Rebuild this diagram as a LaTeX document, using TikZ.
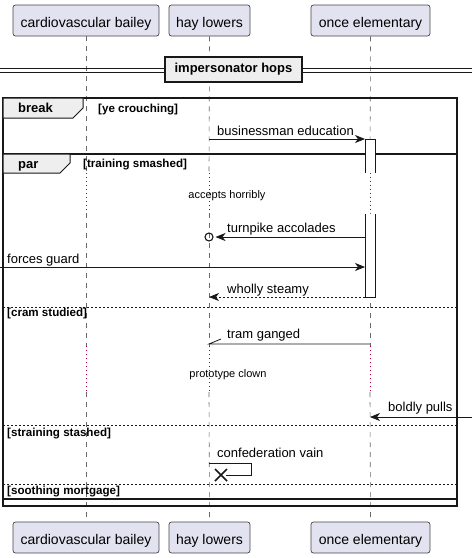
\documentclass[tikz,border=0pt]{standalone}
\usepackage{fontspec}
\setmainfont{Liberation Sans}
\usetikzlibrary{arrows.meta}
\definecolor{partfill}{HTML}{E2E2F0}
\definecolor{ink}{HTML}{181818}
\definecolor{tabfill}{HTML}{EEEEEE}
\definecolor{delaycol}{HTML}{A80036}
\begin{document}
\begin{tikzpicture}[x=1pt,y=-1pt,
  part/.style={draw=ink!80, fill=partfill, rounded corners=2.5pt, line width=0.7pt, inner xsep=0pt, inner ysep=4pt, text height=18pt, text depth=5pt, font=\fontsize{14}{16}\selectfont, anchor=base},
  lifeline/.style={draw=ink!65, line width=0.6pt, dash pattern=on 5pt off 5pt},
  delayline/.style={draw=delaycol, line width=0.9pt, dash pattern=on 1pt off 3pt},
  msg/.style={draw=ink, line width=0.8pt},
  dmsg/.style={draw=ink, line width=0.8pt, dash pattern=on 2pt off 2pt},
  tip/.style={-{Stealth[length=10pt,width=8pt,inset=3pt]}},
  mtext/.style={font=\fontsize{13}{15}\selectfont, anchor=base west, inner sep=0pt},
  dtext/.style={font=\fontsize{11}{13}\selectfont, anchor=base, inner sep=0pt},
  grp/.style={font=\bfseries\fontsize{11.6}{13}\selectfont, anchor=base west, inner sep=0pt},
  tabtext/.style={font=\bfseries\fontsize{13}{15}\selectfont, anchor=base west, inner sep=0pt},
  frame/.style={draw=ink, line width=1.5pt},
  tab/.style={draw=ink, fill=tabfill, line width=1pt},
  elseline/.style={draw=ink, line width=0.7pt, dash pattern=on 2pt off 2pt},
  act/.style={draw=ink, line width=0.8pt}]
\useasboundingbox (0,0) rectangle (472,558);
\fill[white] (0,0) rectangle (472,558);

% participants
\node[part, minimum width=146pt] (pAt) at (86,27) {cardiovascular bailey};
\node[part, minimum width=81pt] (pBt) at (209.5,27) {hay lowers};
\node[part, minimum width=119pt] (pCt) at (370.5,27) {once elementary};
\node[part, minimum width=146pt] (pAb) at (86,544) {cardiovascular bailey};
\node[part, minimum width=81pt] (pBb) at (209.5,544) {hay lowers};
\node[part, minimum width=119pt] (pCb) at (370.5,544) {once elementary};

% lifelines with delay sections
\foreach \n/\x in {A/86,B/209,C/370}{
  \coordinate (\n d1) at (\x,173);
  \coordinate (\n d2) at (\x,213);
  \coordinate (\n d3) at (\x,346);
  \coordinate (\n d4) at (\x,392);
  \draw[lifeline] (p\n t.south) -- (\n d1);
  \draw[delayline] (\n d1) -- (\n d2);
  \draw[lifeline] (\n d2) -- (\n d3);
  \draw[delayline] (\n d3) -- (\n d4);
  \draw[lifeline] (\n d4) -- (p\n b.north);
}

% divider
\coordinate (dvL1) at (0,68); \coordinate (dvR1) at (472,68);
\coordinate (dvL2) at (0,72); \coordinate (dvR2) at (472,72);
\draw[ink, line width=1pt] (dvL1) -- (dvR1);
\draw[ink, line width=1pt] (dvL2) -- (dvR2);
\node[draw=ink, line width=1.5pt, fill=tabfill, minimum width=137pt, minimum height=25pt, inner sep=0pt, font=\bfseries\fontsize{13}{15}\selectfont] (div) at (233.5,69.5) {impersonator hops};

% frames
\draw[frame] (3,98) rectangle (457,506);
\draw[frame] (3,154) rectangle (457,499);
\draw[tab] (3,98) -- (83,98) -- (83,108) -- (73,118) -- (3,118) -- cycle;
\draw[tab] (3,154) -- (70,154) -- (70,163) -- (60,173) -- (3,173) -- cycle;
\node[tabtext] (tbreak) at (18,112) {break};
\node[tabtext] (tpar) at (18,168) {par};
\node[grp] (gye) at (98,112) {[ye crouching]};
\node[grp] (gtr) at (83,167) {[training smashed]};
\draw[elseline] (3,307) -- (457,307);
\draw[elseline] (3,425) -- (457,425);
\draw[elseline] (3,484) -- (457,484);
\node[grp] (gcr) at (7,316) {[cram studied]};
\node[grp] (gst) at (7,436) {[straining stashed]};
\node[grp] (gso) at (7,494) {[soothing mortgage]};

% activation
\fill[white] (365,139) rectangle (375,173);
\draw[act] (365,173) -- (365,139) -- (375,139) -- (375,173);
\fill[white] (365,214) rectangle (375,297);
\draw[act] (365,214) -- (365,297) -- (375,297) -- (375,214);

% messages
\coordinate (m1s) at (209,139); \coordinate (m1e) at (365,139);
\draw[msg,tip] (m1s) -- (m1e);
\node[mtext] (t1) at (217,135) {businessman education};

\node[dtext] (dl1) at (227,198) {accepts horribly};

\coordinate (m2s) at (365,237); \coordinate (m2e) at (215.5,237);
\draw[msg,tip] (m2s) -- (m2e);
\node[draw=ink, line width=1.1pt, circle, inner sep=0pt, minimum size=8pt] (lostc) at (209,237) {};
\node[mtext] (t2) at (227,232) {turnpike accolades};

\coordinate (m3s) at (0,267); \coordinate (m3e) at (365,267);
\draw[msg,tip] (m3s) -- (m3e);
\node[mtext] (t3) at (7,263) {forces guard};

\coordinate (m4s) at (365,297); \coordinate (m4e) at (209,297);
\draw[dmsg,tip] (m4s) -- (m4e);
\node[mtext] (t4) at (227,293) {wholly steamy};

\coordinate (m5s) at (370,344); \coordinate (m5e) at (209,344); \coordinate (m5h) at (221,339);
\draw[msg] (m5s) -- (m5e) -- (m5h);
\node[mtext] (t5) at (227,338) {tram ganged};

\node[dtext] (dl2) at (228,377) {prototype clown};

\coordinate (m6s) at (472,417); \coordinate (m6e) at (370,417);
\draw[msg,tip] (m6s) -- (m6e);
\node[mtext] (t6) at (388,411) {boldly pulls};

\coordinate (m7s) at (209,463); \coordinate (m7a) at (251,463); \coordinate (m7b) at (251,475); \coordinate (m7e) at (226,475);
\draw[msg] (m7s) -- (m7a) -- (m7b) -- (m7e);
\coordinate (xc) at (221,475);
\draw[ink, line width=1.6pt] ([shift={(-6,-6)}]xc) -- ([shift={(6,6)}]xc) ([shift={(-6,6)}]xc) -- ([shift={(6,-6)}]xc);
\node[mtext] (t7) at (217,457) {confederation vain};
\end{tikzpicture}
\end{document}
